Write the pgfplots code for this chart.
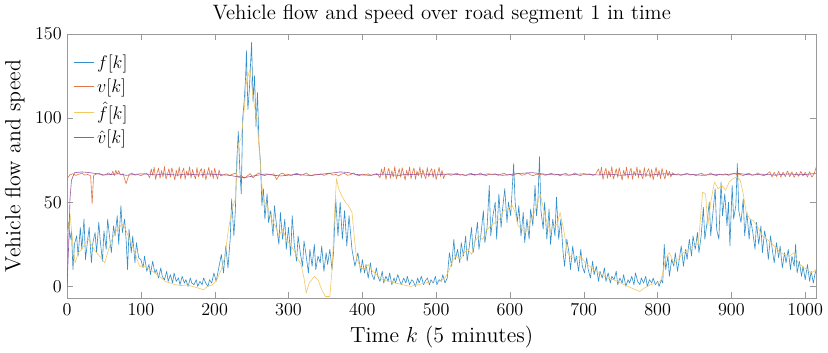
\documentclass[border=0pt]{standalone}
\usepackage{pgfplots}
\pgfplotsset{compat=1.18}
\definecolor{mblue}{rgb}{0,0.447,0.741}
\definecolor{morange}{rgb}{0.851,0.325,0.098}
\definecolor{myellow}{rgb}{0.929,0.694,0.125}
\definecolor{mpurple}{rgb}{0.494,0.184,0.556}
\colorlet{lblue}{mblue!80!white}
\colorlet{lorange}{morange!80!white}
\colorlet{lyellow}{myellow!70!white}
\colorlet{lpurple}{mpurple!80!white}
\begin{document}
\begin{tikzpicture}
\begin{axis}[
  scale only axis, width=496pt, height=175pt,
  xmin=0, xmax=1015, ymin=-7, ymax=150,
  xtick={0,100,...,1000}, ytick={0,50,100,150},
  /pgf/number format/1000 sep={},
  tick align=inside, major tick length=4pt,
  axis line style={black!40}, tick style={black!40},
  ticklabel style={font=\fontsize{12.5}{14}\selectfont},
  title={Vehicle flow and speed over road segment 1 in time},
  title style={font=\fontsize{13.8}{16}\selectfont, yshift=-3pt},
  xlabel={Time $k$ (5 minutes)},
  ylabel={Vehicle flow and speed},
  label style={font=\fontsize{14.5}{17}\selectfont},
  legend style={draw=none, fill=none, at={(0.003,0.945)}, anchor=north west,
    font=\fontsize{12.5}{14}\selectfont, row sep=1.2pt},
  legend cell align=left,
  legend image code/.code={\draw[#1] (0cm,0cm) -- (0.45cm,0cm);},
  every axis plot/.append style={line width=0.4pt, line join=round},
]
\addplot[lblue] coordinates {
(0,30) (2,38) (4,28) (6,33) (8,10) (10,25) (13,30) (15,18) (18,35) (20,22) (23,40) (25,16) (28,28) (30,35)
(33,14) (35,26) (38,32) (40,20) (43,38) (45,27) (48,15) (50,33) (53,22) (55,40) (58,28) (60,20) (63,36) (65,30)
(68,42) (70,25) (73,48) (75,32) (78,40) (80,28) (82,10) (84,34) (87,20) (89,30) (92,14) (94,26) (97,17)
(100,16) (103,11) (105,18) (108,9) (111,13) (113,7) (116,15) (119,8) (121,10) (124,5) (127,11) (129,6) (132,4)
(135,9) (137,3) (140,7) (143,2) (145,8) (148,3) (151,5) (153,1) (156,6) (159,2) (161,4) (164,0) (167,5) (169,2)
(172,1) (175,4) (177,0) (180,3) (183,1) (185,5) (188,2) (191,0) (193,4) (196,2) (199,8)
(202,3) (206,12) (209,19) (212,8) (215,24) (218,11) (221,28) (223,52) (226,30)
(228,45) (230,75) (232,92) (234,70) (236,55) (238,100) (240,110) (242,125) (243,140) (245,105)
(247,117) (250,145) (252,110) (254,125) (256,95) (258,115) (260,85) (262,74) (264,48) (266,58)
(268,40) (271,55) (273,38) (276,45) (279,30) (281,48) (284,35) (287,25) (289,44) (292,28) (295,40) (297,22)
(300,35) (303,18) (305,42) (308,24) (311,15) (313,30) (316,20) (319,12) (321,27) (324,18) (327,8) (329,22)
(332,12) (335,25) (337,10) (340,18) (343,14) (345,24) (348,9) (351,20) (353,13) (356,22) (359,10) (361,20)
(364,52) (367,30) (370,50) (373,28) (376,45) (379,24)
(382,42) (386,22) (390,12) (394,20) (398,8)
(400,16) (403,8) (405,13) (408,5) (411,14) (413,7) (416,4) (419,11) (421,6) (424,3) (427,9) (429,2) (432,6)
(435,3) (437,8) (440,1) (443,5) (445,2) (448,7) (451,3) (453,1) (456,5) (459,2) (461,6) (464,1) (467,4) (469,3)
(472,0) (475,5) (477,2) (480,6) (483,1) (485,3) (488,5) (491,1) (493,4) (496,2) (499,6) (501,1) (504,4) (507,3)
(509,7) (512,2) (515,5)
(518,20) (521,12) (524,28) (526,16) (529,22) (532,14) (534,26) (537,18) (540,30) (542,15) (545,24) (548,35)
(550,20) (553,28) (556,38) (558,22) (561,32) (564,45) (566,26) (569,35) (572,60) (574,30) (577,42) (580,50)
(582,28) (585,55) (588,35) (590,46) (593,58) (596,38) (598,50) (601,42) (605,73) (607,50) (610,38) (612,48)
(615,30) (618,44) (620,26) (623,40) (626,28) (628,46) (631,36) (634,60) (636,42) (638,52) (640,77) (642,45)
(645,34) (647,50) (650,28) (653,46) (655,25) (658,40) (661,30) (663,53) (666,28) (669,40) (672,20) (674,12)
(677,28)
(680,20) (682,10) (685,24) (688,14) (690,18) (693,9) (696,22) (698,12) (701,8) (704,17) (706,10) (709,5)
(712,15) (714,7) (717,12) (720,3) (722,9) (725,5) (728,11) (730,3) (733,8) (736,2) (738,6) (741,4) (744,9)
(746,1) (749,5) (752,2) (754,7) (757,0) (760,4) (762,2) (765,6) (768,1) (770,8) (773,3) (776,1) (778,5)
(781,2) (784,6) (786,0) (789,4) (792,2) (794,5) (797,1) (800,3) (802,0) (805,4) (807,2)
(809,25) (811,10) (814,18) (816,6) (819,16) (822,12) (824,20) (827,9) (830,18) (832,24) (835,12) (838,22)
(840,16) (843,28) (846,18) (848,30) (851,22) (854,32) (856,20) (859,30) (862,47) (864,28) (867,38) (870,50)
(872,30) (875,44) (878,58) (880,34) (883,28) (886,62) (888,42) (891,55) (894,36) (896,50) (898,24) (901,60)
(903,40) (906,48) (908,73) (910,45) (913,38) (916,52) (918,30) (921,44) (924,28) (926,40) (929,32) (932,22)
(934,38) (937,25) (940,36) (942,20) (945,33) (948,26) (950,16) (953,30) (956,20) (958,14) (961,26) (964,17)
(966,24) (969,11) (972,20) (974,14) (977,22) (980,10) (982,18) (985,12) (987,25) (989,8) (992,15) (995,6)
(997,12) (1000,4) (1003,13) (1006,3) (1008,9) (1011,2) (1013,7) (1015,10)
};
\addlegendentry{$f[k]$}
\addplot[lorange] coordinates {
(0,64.0) (4,66.3) (8,66.9) (12,65.9) (16,66.6) (20,67.3) (24,66.1) (28,66.5) (32,65.7) (34,49.0)
(36,66.0) (40,66.8) (44,67.1) (48,66.0) (52,66.4) (56,67.4) (60,66.2) (62,68.5) (64,65.8) (66,69.0) (68,66.7) (70,68.8) (72,66.3)
(76,66.9) (80,61.0) (84,66.6) (88,67.3) (92,66.1) (96,66.5) (100,65.7) (104,66.8) (108,67.1) (110,66.0)
(112,64.5) (114,69.8) (116,66.0) (118,70.8) (120,63.5) (122,67.5) (124,70.2) (126,64.2) (128,68.8) (130,65.0)
(132,71.2) (134,63.8) (136,66.5) (138,69.9) (140,64.8) (142,70.5) (144,66.8) (146,63.2) (148,69.0) (150,65.5)
(152,70.9) (154,64.0) (156,67.8) (158,70.3) (160,63.6) (162,68.5) (164,65.8) (166,71.0) (168,64.4) (170,69.4)
(172,66.2) (174,63.9) (176,70.6) (178,65.1) (180,68.2) (182,70.0) (184,64.6) (186,69.6) (188,63.4) (190,67.0)
(192,70.7) (194,65.3) (196,68.9) (198,64.1) (200,70.1) (202,66.4) (204,63.7) (206,69.2) (208,65.6)
(212,66.3) (216,66.9) (220,65.9) (224,66.6) (228,67.3) (232,64.8) (236,66.0) (240,64.2) (244,65.5) (248,67.0)
(252,64.5) (256,66.4) (260,67.4) (264,66.2) (268,65.8) (272,66.7) (276,66.3) (280,66.9) (284,63.5) (288,66.6)
(292,67.3) (296,66.1) (300,66.5) (304,65.7) (308,66.8) (312,67.1) (316,66.0) (320,66.4) (324,67.4) (328,66.2)
(332,65.8) (336,66.7) (340,66.3) (344,66.9) (348,65.9) (352,66.6) (356,67.3) (360,66.1) (364,66.5) (368,65.7)
(372,66.8) (376,67.1) (380,66.0) (384,66.4) (388,67.4) (392,66.2) (396,65.8) (400,66.7) (404,66.3) (408,66.9)
(412,65.9) (416,66.6) (420,67.0)
(424,64.5) (426,69.8) (428,66.0) (430,70.8) (432,63.5) (434,67.5) (436,70.2) (438,64.2) (440,68.8) (442,65.0)
(444,71.2) (446,63.8) (448,66.5) (450,69.9) (452,64.8) (454,70.5) (456,66.8) (458,63.2) (460,69.0) (462,65.5)
(464,70.9) (466,64.0) (468,67.8) (470,70.3) (472,63.6) (474,68.5) (476,65.8) (478,71.0) (480,64.4) (482,69.4)
(484,66.2) (486,63.9) (488,70.6) (490,65.1) (492,68.2) (494,70.0) (496,64.6) (498,69.6) (500,63.4) (502,67.0)
(504,70.7) (506,65.3) (508,68.9) (510,64.1) (512,66.3)
(516,66.9) (520,65.9) (524,66.6) (528,67.3) (532,66.1) (536,66.5) (540,65.7) (544,66.8) (548,67.1) (552,66.0)
(556,66.4) (560,67.4) (564,66.2) (568,65.8) (572,66.7) (576,66.3) (580,66.9) (584,65.9) (588,66.6) (592,67.3)
(596,66.1) (600,66.5) (604,65.7) (608,66.8) (612,67.1) (616,66.0) (620,66.4) (624,67.4) (628,66.2) (632,65.8)
(636,66.7) (640,66.3) (644,66.9) (648,65.9) (652,66.6) (656,67.3) (660,66.1) (664,66.5) (668,65.7) (672,66.8)
(676,67.1) (680,66.0) (684,66.4) (688,67.4) (692,66.2) (696,65.8) (700,66.7) (704,66.3) (708,66.9) (712,65.9)
(716,66.6)
(720,69.8) (722,66.0) (724,70.8) (726,63.5) (728,67.5) (730,70.2) (732,64.2) (734,68.8) (736,65.0) (738,71.2)
(740,63.8) (742,66.5) (744,69.9) (746,64.8) (748,70.5) (750,66.8) (752,63.2) (754,69.0) (756,65.5) (758,70.9)
(760,64.0) (762,67.8) (764,70.3) (766,63.6) (768,68.5) (770,65.8) (772,71.0) (774,64.4) (776,69.4) (778,66.2)
(780,63.9) (782,70.6) (784,65.1) (786,68.2) (788,70.0) (790,64.6) (792,69.6) (794,63.4) (796,67.0) (798,70.7)
(800,65.3) (802,68.9) (804,64.1) (806,70.1) (808,66.4) (810,63.7) (812,69.2) (814,65.6) (816,68.4) (818,64.9)
(820,67.5)
(824,66.3) (828,66.9) (832,65.9) (836,66.6) (840,67.3) (844,66.1) (848,66.5) (852,65.7) (856,66.8) (860,67.1)
(864,66.0) (868,66.4) (872,67.4) (876,66.2) (880,65.8) (884,66.7) (888,66.3) (892,66.9) (896,65.9) (900,66.6)
(904,67.3) (908,66.1) (912,66.5) (916,65.7) (920,66.8) (924,67.1) (928,66.0) (932,66.4) (936,67.4) (940,66.2)
(944,65.8) (948,66.7) (952,68.2) (955,65.0) (958,67.8) (961,65.3) (964,68.4) (967,64.9) (970,67.9) (973,65.2)
(976,68.6) (979,65.1) (982,68.0) (985,64.8) (988,67.7) (991,65.4) (994,68.3) (997,65.6) (1000,67.9)
(1003,65.0) (1006,68.1) (1009,64.9) (1012,66.8) (1015,71.0)
};
\addlegendentry{$v[k]$}
\addplot[lyellow] coordinates {
(0,30) (4,43) (8,25) (11,14) (15,20) (20,22) (25,26) (29,28) (34,24) (38,21)
(42,19) (46,17) (51,14) (55,20) (60,27) (65,32) (70,35) (76,37) (80,33) (84,29)
(87,26) (92,20) (98,12) (104,12) (110,11) (116,9) (122,7) (128,5) (133,3) (140,2)
(147,1) (155,0.5) (162,1) (170,0) (178,-1) (185,-2) (190,0) (197,1) (203,4) (209,10)
(214,18) (218,32) (223,45) (228,52) (232,85) (236,88) (240,105) (243,122) (248,129) (252,112)
(257,100) (261,78) (265,55) (268,50) (272,47) (277,40) (282,36) (287,30) (292,34) (297,28)
(302,25) (308,21) (313,16) (317,13) (321,5) (324,-4) (328,2) (335,6) (340,4) (345,-2)
(350,-6) (356,-6) (359,10) (362,40) (365,64) (368,58) (372,54) (377,50) (381,48) (386,44)
(389,30) (392,17) (397,12) (402,10) (408,13) (414,9) (420,7) (427,4) (435,3) (445,2)
(455,1) (465,0) (475,1) (485,2) (495,3) (505,3) (512,5) (517,9) (522,15) (527,18)
(533,16) (538,20) (543,22) (548,19) (553,27) (558,30) (563,28) (568,33) (574,36) (580,38)
(586,40) (591,45) (597,46) (603,48) (607,44) (611,36) (616,34) (621,32) (626,36) (631,42)
(636,47) (641,55) (645,47) (649,40) (654,33) (659,36) (664,37) (668,44) (673,33) (678,20)
(683,17) (690,17) (696,18) (702,14) (708,12) (716,9) (724,7) (732,5) (740,4) (750,2)
(760,0) (770,-2) (776,-3) (782,-1) (790,1) (798,2) (804,3) (808,10) (811,17) (816,20)
(822,14) (828,16) (835,20) (842,22) (848,24) (855,25) (858,40) (861,56) (865,55) (868,36)
(872,50) (877,62) (882,58) (887,60) (892,57) (897,62) (902,64) (907,65) (912,63) (916,55)
(920,44) (925,40) (930,39) (936,35) (942,30) (948,28) (954,26) (960,23) (966,20) (972,19)
(978,18) (985,20) (990,14) (996,12) (1002,10) (1008,8) (1015,10)
};
\addlegendentry{$\hat{f}[k]$}
\addplot[lpurple] coordinates {
(0,0) (2,22) (4,52) (6,63) (10,67.5) (20,68.0) (30,67.6) (40,67.0) (50,66.2) (60,66.5)
(70,66.9) (80,66.0) (90,66.4) (100,66.9) (110,66.6) (120,66.2) (130,66.8) (140,66.4) (150,66.1) (160,66.7)
(170,66.5) (180,66.2) (190,66.8) (200,66.5) (210,66.3) (220,66.0) (230,65.2) (240,64.6) (250,65.4) (260,66.2)
(270,66.8) (280,66.0) (290,65.6) (300,66.1) (310,66.5) (320,66.2) (330,65.9) (340,66.4) (350,66.9) (360,67.4)
(370,68.0) (380,67.7) (390,66.6) (400,66.2) (410,66.0) (420,66.5) (430,66.7) (440,66.2) (450,66.0) (460,66.6)
(470,66.4) (480,66.9) (490,66.5) (500,66.2) (510,66.6) (520,66.8) (530,66.4) (540,66.1) (550,66.5) (560,66.3)
(570,66.8) (580,66.6) (590,66.0) (600,66.4) (610,67.0) (620,67.3) (630,67.6) (640,67.0) (650,66.5) (660,66.7)
(670,66.3) (680,66.1) (690,66.6) (700,66.9) (710,66.4) (720,66.2) (730,66.7) (740,66.5) (750,66.0) (760,66.4)
(770,66.8) (780,66.3) (790,66.1) (800,66.6) (810,66.9) (820,66.5) (830,66.2) (840,66.7) (850,66.4) (860,66.0)
(870,66.3) (880,66.6) (890,66.2) (900,66.8) (910,67.1) (920,66.5) (930,66.2) (940,66.7) (950,66.4) (960,66.1)
(970,66.6) (980,66.8) (990,66.3) (1000,66.5) (1010,66.9) (1015,67.0)
};
\addlegendentry{$\hat{v}[k]$}
\end{axis}
\end{tikzpicture}
\end{document}
